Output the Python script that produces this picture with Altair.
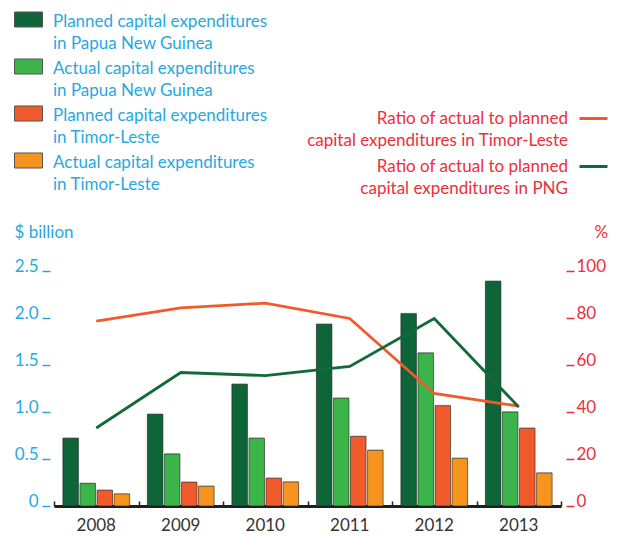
import altair as alt
import pandas as pd

FONT = "Lato"
BLUE = "#29a8e0"
RED = "#ec2f3b"
DARK = "#231f20"

years = ["2008", "2009", "2010", "2011", "2012", "2013"]
png_planned = [0.72, 0.975, 1.295, 1.933, 2.046, 2.39]
png_actual = [0.24, 0.553, 0.72, 1.146, 1.628, 1.0]
tl_planned = [0.167, 0.252, 0.295, 0.74, 1.067, 0.827]
tl_actual = [0.128, 0.21, 0.255, 0.592, 0.507, 0.351]
ratio_tl = [78.7, 84.3, 86.3, 79.8, 47.9, 42.5]
ratio_png = [33.2, 56.8, 55.5, 59.4, 79.8, 42.1]

bar_series = [
    "Planned capital expenditures|in Papua New Guinea",
    "Actual capital expenditures|in Papua New Guinea",
    "Planned capital expenditures|in Timor-Leste",
    "Actual capital expenditures|in Timor-Leste",
]
bar_colors = ["#0e6537", "#3bb54a", "#f15a2b", "#f7941e"]
line_series = [
    "Ratio of actual to planned|capital expenditures in Timor-Leste",
    "Ratio of actual to planned|capital expenditures in PNG",
]
line_colors = ["#f15a2b", "#126a3a"]

bar_rows = []
for s, vals in zip(bar_series, [png_planned, png_actual, tl_planned, tl_actual]):
    for y, v in zip(years, vals):
        bar_rows.append({"year": y, "series": s, "value": v})
bars_df = pd.DataFrame(bar_rows)

line_rows = []
for s, vals in zip(line_series, [ratio_tl, ratio_png]):
    for y, v in zip(years, vals):
        line_rows.append({"year": y, "series": s, "ratio": v})
lines_df = pd.DataFrame(line_rows)

x_scale = alt.Scale(domain=years, paddingInner=0, paddingOuter=0)
xo_scale = alt.Scale(domain=bar_series, paddingInner=0.09, paddingOuter=0.52)
y_scale = alt.Scale(domain=[0, 2.5], nice=False)

shadow = alt.Chart(bars_df).mark_bar(
    fill="#b8b8b8", opacity=0.7, xOffset=2, yOffset=-1
).encode(
    x=alt.X("year:N", scale=x_scale, axis=None),
    xOffset=alt.XOffset("series:N", sort=bar_series, scale=xo_scale),
    y=alt.Y("value:Q", scale=y_scale, axis=None),
)

bars = alt.Chart(bars_df).mark_bar(
    stroke="#1a1a1a", strokeOpacity=0.55, strokeWidth=1
).encode(
    x=alt.X("year:N", scale=x_scale, axis=alt.Axis(
        orient="bottom", title=None, ticks=False, domain=True,
        domainColor=DARK, domainWidth=3, labelAngle=0,
        labelFont=FONT, labelFontSize=17, labelColor="#333333", labelPadding=11,
    )),
    xOffset=alt.XOffset("series:N", sort=bar_series, scale=xo_scale),
    y=alt.Y("value:Q", scale=y_scale, axis=alt.Axis(
        orient="left", values=[0, 0.5, 1, 1.5, 2, 2.5],
        labelExpr="datum.value == 0 ? '0' : format(datum.value, '.1f')",
        domain=False, grid=False, ticks=True, tickSize=8, tickWidth=1.5,
        tickColor=BLUE, offset=4, labelPadding=4, labelColor=BLUE,
        labelFont=FONT, labelFontSize=17, labelBaseline="alphabetic",
        title="$ billion", titleAngle=0, titleAlign="left", titleBaseline="middle",
        titleX=-36, titleY=-39, titleColor=BLUE, titleFont=FONT,
        titleFontSize=17, titleFontWeight="normal",
    )),
    fill=alt.Fill("series:N", sort=bar_series,
                  scale=alt.Scale(domain=bar_series, range=bar_colors),
                  legend=alt.Legend(
                      title=None, orient="none", legendX=-40, legendY=-264,
                      symbolType="M-1,-0.679H1V0.393H-1Z", symbolSize=784,
                      symbolStrokeWidth=1, symbolStrokeColor="#555555",
                      labelExpr="split(datum.label, '|')",
                      labelFont=FONT, labelFontSize=17, labelColor=BLUE,
                      labelLimit=0, labelOffset=10, rowPadding=2, padding=0,
                      symbolOpacity=1,
                  )),
)

lines = alt.Chart(lines_df).mark_line(strokeWidth=2.8).encode(
    x=alt.X("year:N", scale=x_scale, axis=alt.Axis(
        orient="top", offset=-235, labels=False, domain=False, ticks=True,
        tickBand="extent", tickSize=5, tickWidth=1.5, tickColor=DARK,
        title=None, grid=False,
    )),
    y=alt.Y("ratio:Q", scale=alt.Scale(domain=[0, 100], nice=False), axis=alt.Axis(
        orient="right", values=[0, 20, 40, 60, 80, 100],
        domain=False, grid=False, ticks=True, tickSize=8, tickWidth=1.5,
        tickColor=RED, offset=5, labelPadding=2, labelColor=RED,
        labelFont=FONT, labelFontSize=17, labelBaseline="alphabetic",
        title="%", titleAngle=0, titleAlign="left", titleBaseline="middle",
        titleX=28, titleY=-39, titleColor=RED, titleFont=FONT,
        titleFontSize=17, titleFontWeight="normal",
    )),
    stroke=alt.Stroke("series:N", sort=line_series,
                      scale=alt.Scale(domain=line_series, range=line_colors),
                      legend=alt.Legend(
                          title=None, orient="none", legendX=524, legendY=-168,
                          symbolType="M-1,0H1", symbolSize=784, symbolStrokeWidth=3,
                          labelExpr="split(datum.label, '|')",
                          labelFont=FONT, labelFontSize=17, labelColor=RED,
                          labelLimit=0, labelAlign="right",
                          labelOffset=alt.ExprRef(expr="-41"),
                          rowPadding=2, padding=0,
                      )),
)

chart = alt.layer(shadow, bars, lines).resolve_scale(
    y="independent"
).resolve_axis(
    x="independent", y="independent"
).properties(
    width=507, height=235,
    autosize=alt.AutoSizeParams(type="none"),
    padding={"left": 46, "top": 263, "right": 48, "bottom": 28},
)
chart = chart.configure(style={"guide-label": {"lineHeight": 22}}).configure_view(stroke=None)

chart.save("out.html", embed_options={"renderer": "svg", "actions": False})
